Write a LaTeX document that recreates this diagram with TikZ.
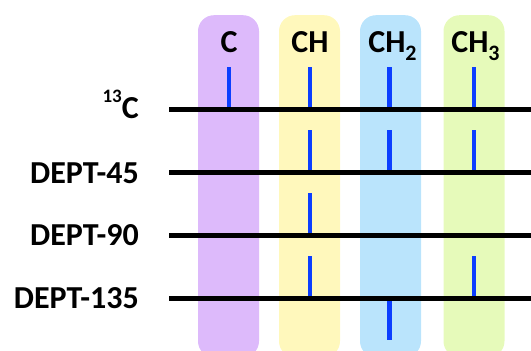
\documentclass[tikz,border=0pt]{standalone}
\usepackage{fontspec}
\setmainfont{Carlito}
\definecolor{colpurple}{RGB}{221,186,251}
\definecolor{colyellow}{RGB}{255,248,188}
\definecolor{colblue}{RGB}{186,228,252}
\definecolor{colgreen}{RGB}{230,250,186}
\definecolor{peakblue}{RGB}{12,62,255}
\newcommand{\mysub}[1]{\raisebox{-7.5pt}{\fontsize{22}{24}\selectfont #1}}
\newcommand{\mysup}[1]{\raisebox{16pt}{\fontsize{19}{22}\selectfont #1}}
\begin{document}
\begin{tikzpicture}[x=1pt,y=-1pt,
  colbox/.style={rounded corners=16pt, minimum width=61pt, minimum height=342pt, anchor=north, inner sep=0pt, draw=none},
  header/.style={anchor=base, font=\fontsize{32}{38}\selectfont\bfseries, inner sep=0pt},
  rowlabel/.style={anchor=base east, font=\fontsize{32}{38}\selectfont\bfseries, inner sep=0pt},
  baseline/.style={line width=5pt, black},
  peak/.style={line width=4.5pt, peakblue}]
\useasboundingbox (0,0) rectangle (531,351);
\clip (0,0) rectangle (531,351);
% columns
\node[colbox, fill=colpurple] (colC) at (228.5,15) {};
\node[colbox, fill=colyellow] (colCH) at (309.5,15) {};
\node[colbox, fill=colblue] (colCHb) at (390.5,15) {};
\node[colbox, fill=colgreen] (colCHc) at (474,15) {};
% headers
\node[header] (hC) at (229,52.5) {C};
\node[header] (hCH) at (310,52.5) {CH};
\node[header] (hCHb) at (392.5,52.5) {CH\mysub{2}};
\node[header] (hCHc) at (475.5,52.5) {CH\mysub{3}};
% row labels
\node[rowlabel] (l13) at (139,118.8) {\mysup{13}C};
\node[rowlabel] (l45) at (139,183) {DEPT-45};
\node[rowlabel] (l90) at (139,245.8) {DEPT-90};
\node[rowlabel] (l135) at (139,308.3) {DEPT-135};
% baseline coordinates
\coordinate (aL) at (169,109.5); \coordinate (aR) at (531,109.5);
\coordinate (bL) at (169,172.5); \coordinate (bR) at (531,172.5);
\coordinate (cL) at (169,235.5); \coordinate (cR) at (531,235.5);
\coordinate (dL) at (169,298);   \coordinate (dR) at (531,298);
% peaks
\draw[peak] (229,109.5) -- (229,67);
\draw[peak] (310,109.5) -- (310,67);
\draw[peak] (389.5,109.5) -- (389.5,67);
\draw[peak] (474,109.5) -- (474,67);
\draw[peak] (310,172.5) -- (310,130);
\draw[peak] (389.5,172.5) -- (389.5,130);
\draw[peak] (474,172.5) -- (474,130);
\draw[peak] (310,235.5) -- (310,193);
\draw[peak] (310,298) -- (310,256);
\draw[peak] (474,298) -- (474,256);
\draw[peak] (389.5,298) -- (389.5,340);
% baselines
\draw[baseline] (aL) -- (aR);
\draw[baseline] (bL) -- (bR);
\draw[baseline] (cL) -- (cR);
\draw[baseline] (dL) -- (dR);
\end{tikzpicture}
\end{document}
